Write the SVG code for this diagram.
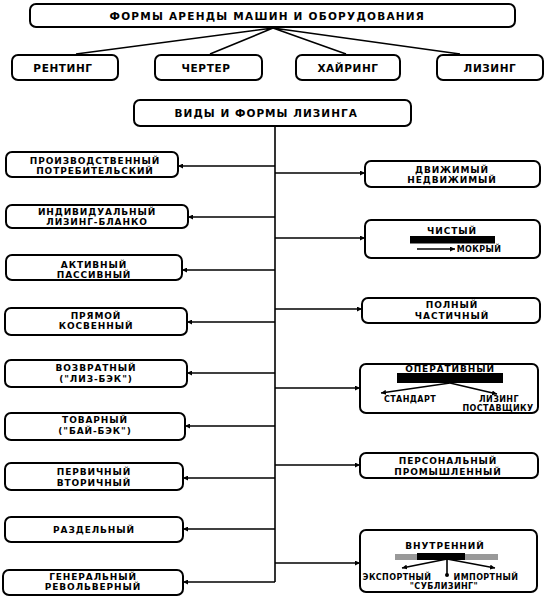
<svg xmlns="http://www.w3.org/2000/svg" width="547" height="600" viewBox="0 0 547 600">
<style>
.box{fill:#fff;stroke:#000;stroke-width:2}
.ln{stroke:#000;stroke-width:1.6;fill:none}
.t{font-family:"DejaVu Sans","Liberation Sans",sans-serif;font-weight:bold;font-size:9px;letter-spacing:0.9px;text-anchor:middle;fill:#000}
.s{font-size:8px;letter-spacing:0.4px}
.h{font-size:10.5px;letter-spacing:0.6px}
</style>
<defs>
<marker id="ah" viewBox="0 0 10 10" refX="10" refY="5" markerWidth="5" markerHeight="5" markerUnits="userSpaceOnUse" orient="auto"><path d="M0,0L10,5L0,10z" fill="#000"/></marker>
</defs>
<rect width="547" height="600" fill="#fff"/>
<g id="connectors">
<path class="ln" d="M273,28L76,54M273,28L210,54M273,28L346,54M273,28L460,54"/>
<path class="ln" d="M275,126V582" stroke-width="2.2"/>
<path class="ln" marker-end="url(#ah)" d="M275,166H178"/>
<path class="ln" marker-end="url(#ah)" d="M275,217H188"/>
<path class="ln" marker-end="url(#ah)" d="M275,270H182"/>
<path class="ln" marker-end="url(#ah)" d="M275,322H187"/>
<path class="ln" marker-end="url(#ah)" d="M275,373H187"/>
<path class="ln" marker-end="url(#ah)" d="M275,426H185"/>
<path class="ln" marker-end="url(#ah)" d="M275,478H183"/>
<path class="ln" marker-end="url(#ah)" d="M275,529H183"/>
<path class="ln" marker-end="url(#ah)" d="M275,582H183"/>
<path class="ln" marker-end="url(#ah)" d="M275,173H365"/>
<path class="ln" marker-end="url(#ah)" d="M275,238H365"/>
<path class="ln" marker-end="url(#ah)" d="M275,309H362"/>
<path class="ln" marker-end="url(#ah)" d="M275,388H360"/>
<path class="ln" marker-end="url(#ah)" d="M275,465H360"/>
<path class="ln" marker-end="url(#ah)" d="M275,563H360"/>
</g>
<g id="top">
<rect class="box" x="30" y="4" width="485" height="23" rx="6"/>
<text class="t h" x="267" y="19.5" textLength="315" lengthAdjust="spacing">ФОРМЫ АРЕНДЫ МАШИН И ОБОРУДОВАНИЯ</text>
</g>
<g id="renting"><rect class="box" x="12" y="55" width="106" height="25" rx="6"/><text class="t h" x="63" y="71.5">РЕНТИНГ</text></g>
<g id="charter"><rect class="box" x="155" y="55" width="107" height="25" rx="6"/><text class="t h" x="206" y="71.5">ЧЕРТЕР</text></g>
<g id="hiring"><rect class="box" x="296" y="55" width="104" height="25" rx="6"/><text class="t h" x="348" y="71.5">ХАЙРИНГ</text></g>
<g id="leasing"><rect class="box" x="437" y="55" width="106" height="25" rx="6"/><text class="t h" x="490" y="71.5">ЛИЗИНГ</text></g>
<g id="kinds">
<rect class="box" x="134" y="100" width="277" height="26" rx="6"/>
<text class="t h" x="266" y="117" textLength="183" lengthAdjust="spacing">ВИДЫ И ФОРМЫ ЛИЗИНГА</text>
</g>
<g id="l1"><rect class="box" x="6" y="152" width="172" height="25" rx="6"/><text class="t" x="95" y="163.5">ПРОИЗВОДСТВЕННЫЙ</text><text class="t" x="95" y="173.5">ПОТРЕБИТЕЛЬСКИЙ</text></g>
<g id="l2"><rect class="box" x="6" y="205" width="182" height="23" rx="6"/><text class="t" x="97" y="214.5">ИНДИВИДУАЛЬНЫЙ</text><text class="t" x="97" y="224.5">ЛИЗИНГ-БЛАНКО</text></g>
<g id="l3"><rect class="box" x="6" y="255" width="176" height="25" rx="6"/><text class="t" x="94" y="267.5">АКТИВНЫЙ</text><text class="t" x="94" y="277.5">ПАССИВНЫЙ</text></g>
<g id="l4"><rect class="box" x="5" y="308" width="182" height="27" rx="6"/><text class="t" x="96" y="318.5">ПРЯМОЙ</text><text class="t" x="96" y="329">КОСВЕННЫЙ</text></g>
<g id="l5"><rect class="box" x="5" y="360" width="182" height="27" rx="6"/><text class="t" x="96" y="370.5">ВОЗВРАТНЫЙ</text><text class="t" x="96" y="382">("ЛИЗ-БЭК")</text></g>
<g id="l6"><rect class="box" x="5" y="413" width="180" height="27" rx="6"/><text class="t" x="95" y="422.5">ТОВАРНЫЙ</text><text class="t" x="95" y="433.5">("БАЙ-БЭК")</text></g>
<g id="l7"><rect class="box" x="5" y="463" width="178" height="27" rx="6"/><text class="t" x="94" y="475">ПЕРВИЧНЫЙ</text><text class="t" x="94" y="486">ВТОРИЧНЫЙ</text></g>
<g id="l8"><rect class="box" x="5" y="517" width="178" height="25" rx="6"/><text class="t" x="94" y="532.5">РАЗДЕЛЬНЫЙ</text></g>
<g id="l9"><rect class="box" x="3" y="570" width="180" height="25" rx="6"/><text class="t" x="93" y="580">ГЕНЕРАЛЬНЫЙ</text><text class="t" x="93" y="590">РЕВОЛЬВЕРНЫЙ</text></g>
<g id="r1"><rect class="box" x="365" y="161" width="175" height="26" rx="6"/><text class="t" x="452" y="172.5">ДВИЖИМЫЙ</text><text class="t" x="452" y="182.5">НЕДВИЖИМЫЙ</text></g>
<g id="r2"><rect class="box" x="365" y="220" width="175" height="38" rx="6"/><text class="t" x="452" y="233.5">ЧИСТЫЙ</text><rect x="410" y="236" width="85" height="7.5" fill="#000"/><path class="ln" stroke-width="1.2" marker-end="url(#ah)" d="M417,249H455"/><text class="t s" x="479" y="252">МОКРЫЙ</text></g>
<g id="r3"><rect class="box" x="362" y="298" width="178" height="25" rx="6"/><text class="t" x="452" y="308">ПОЛНЫЙ</text><text class="t" x="452" y="319">ЧАСТИЧНЫЙ</text></g>
<g id="r4"><rect class="box" x="360" y="364" width="178" height="49" rx="6"/><text class="t" x="450" y="372">ОПЕРАТИВНЫЙ</text><rect x="397" y="373" width="106" height="10" fill="#000"/><path class="ln" stroke-width="1.2" marker-end="url(#ah)" d="M450,383L381,393"/><path class="ln" stroke-width="1.2" marker-end="url(#ah)" d="M450,383L497,394"/><text class="t s" x="410" y="402">СТАНДАРТ</text><text class="t s" x="499" y="402">ЛИЗИНГ</text><text class="t s" x="498" y="411">ПОСТАВЩИКУ</text></g>
<g id="r5"><rect class="box" x="360" y="453" width="178" height="25" rx="6"/><text class="t" x="448" y="464">ПЕРСОНАЛЬНЫЙ</text><text class="t" x="448" y="475">ПРОМЫШЛЕННЫЙ</text></g>
<g id="r6"><rect class="box" x="360" y="530" width="177" height="62" rx="6"/><text class="t" x="445" y="549">ВНУТРЕННИЙ</text><rect x="395" y="554" width="103" height="6" fill="#999"/><rect x="417" y="553" width="48" height="7" fill="#000"/><path class="ln" stroke-width="1.2" marker-end="url(#ah)" d="M447,559L402,568"/><path class="ln" stroke-width="1.2" marker-end="url(#ah)" d="M447,559L495,568"/><path class="ln" stroke-width="1.6" d="M447,559V575"/><circle cx="447" cy="575" r="2" fill="#000"/><text class="t s" x="397" y="580">ЭКСПОРТНЫЙ</text><text class="t s" x="486" y="580">ИМПОРТНЫЙ</text><text class="t s" x="444" y="589">"СУБЛИЗИНГ"</text></g>
</svg>
